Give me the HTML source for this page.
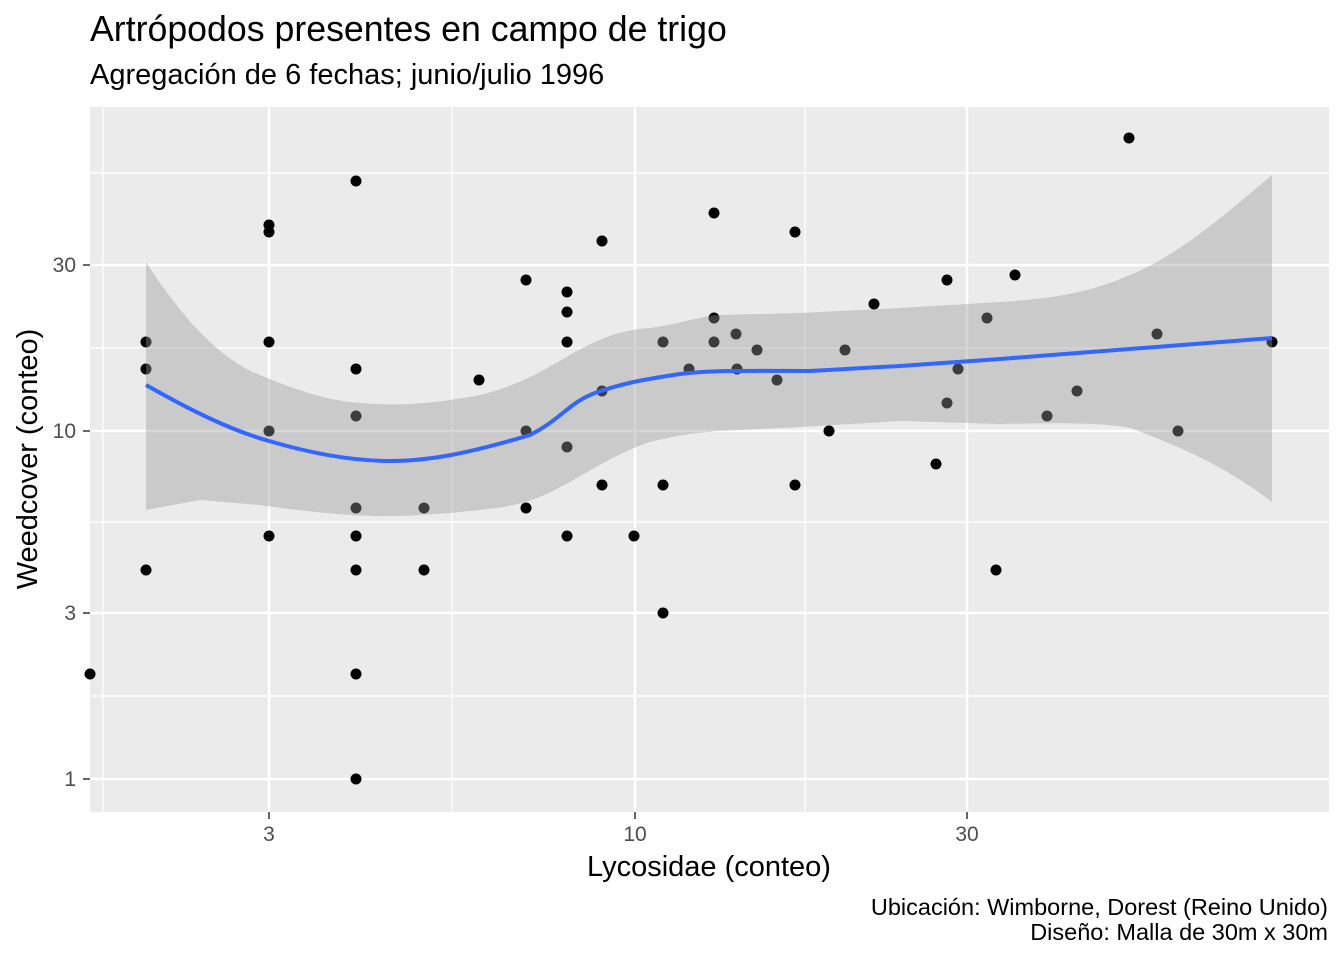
<!DOCTYPE html>
<html><head><meta charset="utf-8"><style>
html,body{margin:0;padding:0;background:#fff;}
svg{display:block;font-family:"Liberation Sans",sans-serif;}
</style></head><body>
<svg width="1344" height="960" viewBox="0 0 1344 960" xmlns="http://www.w3.org/2000/svg">
<rect width="1344" height="960" fill="#fff"/>
<text x="90" y="41" font-size="35.7" fill="#000">Artrópodos presentes en campo de trigo</text>
<text x="90" y="84" font-size="29" fill="#000">Agregación de 6 fechas; junio/julio 1996</text>
<rect x="90" y="107" width="1239" height="705" fill="#EBEBEB"/>
<g stroke="#fff" stroke-width="1.2">
<line x1="90" x2="1329" y1="173" y2="173"/><line x1="90" x2="1329" y1="348" y2="348"/>
<line x1="90" x2="1329" y1="522" y2="522"/><line x1="90" x2="1329" y1="696" y2="696"/>
<line x1="103" x2="103" y1="107" y2="812"/><line x1="452" x2="452" y1="107" y2="812"/>
<line x1="805" x2="805" y1="107" y2="812"/>
</g>
<g stroke="#fff" stroke-width="2.4">
<line x1="90" x2="1329" y1="265" y2="265"/><line x1="90" x2="1329" y1="431" y2="431"/>
<line x1="90" x2="1329" y1="613" y2="613"/><line x1="90" x2="1329" y1="779" y2="779"/>
<line x1="269" x2="269" y1="107" y2="812"/><line x1="635" x2="635" y1="107" y2="812"/>
<line x1="967" x2="967" y1="107" y2="812"/>
</g>
<g fill="#000">
<circle cx="90" cy="674" r="5.5"/><circle cx="146" cy="342" r="5.5"/><circle cx="146" cy="369" r="5.5"/><circle cx="146" cy="570" r="5.5"/>
<circle cx="269" cy="225" r="5.5"/><circle cx="269" cy="232" r="5.5"/><circle cx="269" cy="342" r="5.5"/><circle cx="269" cy="431" r="5.5"/><circle cx="269" cy="536" r="5.5"/>
<circle cx="356" cy="181" r="5.5"/><circle cx="356" cy="369" r="5.5"/><circle cx="356" cy="416" r="5.5"/><circle cx="356" cy="508" r="5.5"/><circle cx="356" cy="536" r="5.5"/><circle cx="356" cy="570" r="5.5"/><circle cx="356" cy="674" r="5.5"/><circle cx="356" cy="779" r="5.5"/>
<circle cx="424" cy="508" r="5.5"/><circle cx="424" cy="570" r="5.5"/><circle cx="479" cy="380" r="5.5"/>
<circle cx="526" cy="280" r="5.5"/><circle cx="526" cy="431" r="5.5"/><circle cx="526" cy="508" r="5.5"/>
<circle cx="567" cy="292" r="5.5"/><circle cx="567" cy="312" r="5.5"/><circle cx="567" cy="342" r="5.5"/><circle cx="567" cy="447" r="5.5"/><circle cx="567" cy="536" r="5.5"/>
<circle cx="602" cy="241" r="5.5"/><circle cx="602" cy="391" r="5.5"/><circle cx="602" cy="485" r="5.5"/><circle cx="634" cy="536" r="5.5"/>
<circle cx="663" cy="342" r="5.5"/><circle cx="663" cy="485" r="5.5"/><circle cx="663" cy="613" r="5.5"/><circle cx="689" cy="369" r="5.5"/>
<circle cx="714" cy="213" r="5.5"/><circle cx="714" cy="318" r="5.5"/><circle cx="714" cy="342" r="5.5"/><circle cx="736" cy="334" r="5.5"/><circle cx="737" cy="369" r="5.5"/>
<circle cx="757" cy="350" r="5.5"/><circle cx="777" cy="380" r="5.5"/><circle cx="795" cy="232" r="5.5"/><circle cx="795" cy="485" r="5.5"/>
<circle cx="829" cy="431" r="5.5"/><circle cx="845" cy="350" r="5.5"/><circle cx="874" cy="304" r="5.5"/><circle cx="936" cy="464" r="5.5"/>
<circle cx="947" cy="280" r="5.5"/><circle cx="947" cy="403" r="5.5"/><circle cx="958" cy="369" r="5.5"/><circle cx="987" cy="318" r="5.5"/>
<circle cx="996" cy="570" r="5.5"/><circle cx="1015" cy="275" r="5.5"/><circle cx="1047" cy="416" r="5.5"/><circle cx="1077" cy="391" r="5.5"/>
<circle cx="1129" cy="138" r="5.5"/><circle cx="1157" cy="334" r="5.5"/><circle cx="1178" cy="431" r="5.5"/><circle cx="1272" cy="342" r="5.5"/>
</g>
<path d="M146,262 C180,315 220,360 260,375 C300,392 330,400 350,402 C390,406 420,406 480,395 C520,385 540,372 570,355 C600,338 620,330 650,328 C690,322 700,316 720,315 L800,313 L900,308 L1000,302 C1060,298 1090,292 1130,275 C1180,255 1230,210 1272,175 L1272,502 C1230,470 1190,450 1130,428 C1100,422 1050,423 1000,424 L900,421 L800,427 L720,431 C690,433 670,437 650,442 C620,452 600,465 570,482 C545,495 530,505 480,510 C440,514 400,518 350,515 C310,512 280,508 260,505 L200,500 L146,510 Z" fill="#999" fill-opacity="0.4"/>
<path d="M146,385 C190,410 230,430 269,441 C310,453 350,461 390,461 C430,461 470,453 530,435 C560,420 570,402 595,393 C620,384 640,380 680,374 C710,370 740,371 810,371 L900,366 L1000,359 L1272,338" fill="none" stroke="#3366FF" stroke-width="4"/>
<g font-size="21" fill="#4D4D4D" text-anchor="end">
<text x="76" y="272">30</text><text x="76" y="438">10</text><text x="76" y="620">3</text><text x="76" y="786">1</text>
</g>
<g stroke="#333" stroke-width="1.5">
<line x1="83" x2="90" y1="265" y2="265"/><line x1="83" x2="90" y1="431" y2="431"/><line x1="83" x2="90" y1="613" y2="613"/><line x1="83" x2="90" y1="779" y2="779"/>
<line x1="269" x2="269" y1="812" y2="819"/><line x1="635" x2="635" y1="812" y2="819"/><line x1="967" x2="967" y1="812" y2="819"/>
</g>
<g font-size="21" fill="#4D4D4D" text-anchor="middle">
<text x="269" y="841">3</text><text x="635" y="841">10</text><text x="967" y="841">30</text>
</g>
<text x="709" y="876" font-size="29" text-anchor="middle" fill="#000">Lycosidae (conteo)</text>
<text transform="translate(37,459) rotate(-90)" font-size="29" text-anchor="middle" fill="#000">Weedcover (conteo)</text>
<text x="1328" y="915" font-size="23.5" text-anchor="end" fill="#000">Ubicación: Wimborne, Dorest (Reino Unido)</text>
<text x="1328" y="940" font-size="23.5" text-anchor="end" fill="#000">Diseño: Malla de 30m x 30m</text>
</svg>
</body></html>
